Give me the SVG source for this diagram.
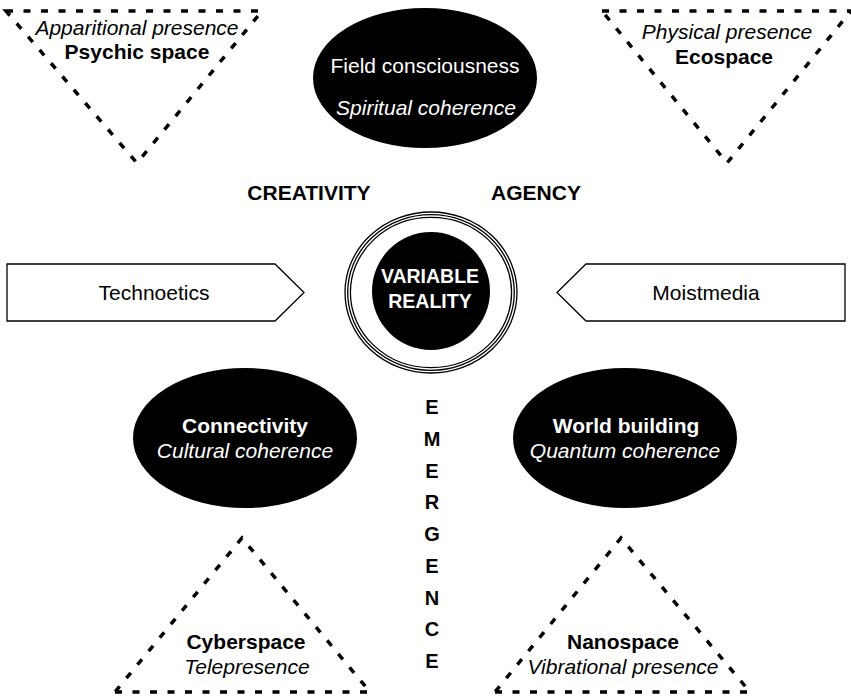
<svg xmlns="http://www.w3.org/2000/svg" width="851" height="696" viewBox="0 0 851 696">
<style>
text{font-family:"Liberation Sans",Arial,Helvetica,sans-serif;font-size:21px;fill:#000;text-anchor:middle}
.b{font-weight:bold}
.i{font-style:italic}
.w{fill:#fff}
.tri{fill:none;stroke:#000;stroke-width:3.5;stroke-dasharray:7 10.5}
.blk{fill:#000;stroke:none}
.ring{fill:none;stroke:#000;stroke-width:1.3}
.arr{fill:#fff;stroke:#000;stroke-width:1.3}
</style>
<rect width="851" height="696" fill="#fff"/>
<g id="connectors"></g>

<g id="psychic-space">
<polygon class="tri" points="6,11 262,11 137,163"/>
<text class="i" x="137" y="35">Apparitional presence</text>
<text class="b" x="137" y="59">Psychic space</text>
</g>

<g id="ecospace">
<polygon class="tri" points="602,11 851,11 727,163"/>
<text class="i" x="727" y="39">Physical presence</text>
<text class="b" x="724" y="64">Ecospace</text>
</g>

<g id="field-consciousness">
<ellipse class="blk" cx="425" cy="78" rx="112" ry="70"/>
<text class="w" x="425" y="73">Field consciousness</text>
<text class="w i" x="426" y="115">Spiritual coherence</text>
</g>

<g id="creativity"><text class="b" x="309" y="200">CREATIVITY</text></g>
<g id="agency"><text class="b" x="536" y="200">AGENCY</text></g>

<g id="variable-reality">
<ellipse class="ring" cx="431" cy="292.5" rx="86" ry="80.5"/>
<ellipse class="ring" cx="431" cy="292.5" rx="83.3" ry="77.8"/>
<ellipse class="ring" cx="431" cy="292.5" rx="80.6" ry="75.1"/>
<circle class="blk" cx="431" cy="291" r="59"/>
<text class="b w" x="430" y="283" style="font-size:19.5px">VARIABLE</text>
<text class="b w" x="430" y="308" style="font-size:19.5px">REALITY</text>
</g>

<g id="technoetics">
<polygon class="arr" points="7,264 275,264 304,292.5 275,321 7,321"/>
<text x="154" y="300">Technoetics</text>
</g>

<g id="moistmedia">
<polygon class="arr" points="557,292.5 586,264 845,264 845,321 586,321"/>
<text x="706" y="300">Moistmedia</text>
</g>

<g id="connectivity">
<ellipse class="blk" cx="245" cy="438" rx="112" ry="70"/>
<text class="b w" x="245" y="433">Connectivity</text>
<text class="i w" x="245" y="458">Cultural coherence</text>
</g>

<g id="world-building">
<ellipse class="blk" cx="625" cy="438" rx="112" ry="70"/>
<text class="b w" x="626" y="433">World building</text>
<text class="i w" x="625" y="458">Quantum coherence</text>
</g>

<g id="emergence">
<text class="b" x="432" y="414" style="font-size:20px">E</text>
<text class="b" x="432" y="446" style="font-size:20px">M</text>
<text class="b" x="432" y="477.5" style="font-size:20px">E</text>
<text class="b" x="432" y="509" style="font-size:20px">R</text>
<text class="b" x="432" y="541" style="font-size:20px">G</text>
<text class="b" x="432" y="573" style="font-size:20px">E</text>
<text class="b" x="432" y="604.5" style="font-size:20px">N</text>
<text class="b" x="432" y="636" style="font-size:20px">C</text>
<text class="b" x="432" y="668" style="font-size:20px">E</text>
</g>

<g id="cyberspace">
<polygon class="tri" points="115,692 370,692 242,538"/>
<text class="b" x="246" y="649">Cyberspace</text>
<text class="i" x="247" y="674">Telepresence</text>
</g>

<g id="nanospace">
<polygon class="tri" points="495,692 750,692 621,538"/>
<text class="b" x="623" y="649">Nanospace</text>
<text class="i" x="623" y="674">Vibrational presence</text>
</g>
</svg>
